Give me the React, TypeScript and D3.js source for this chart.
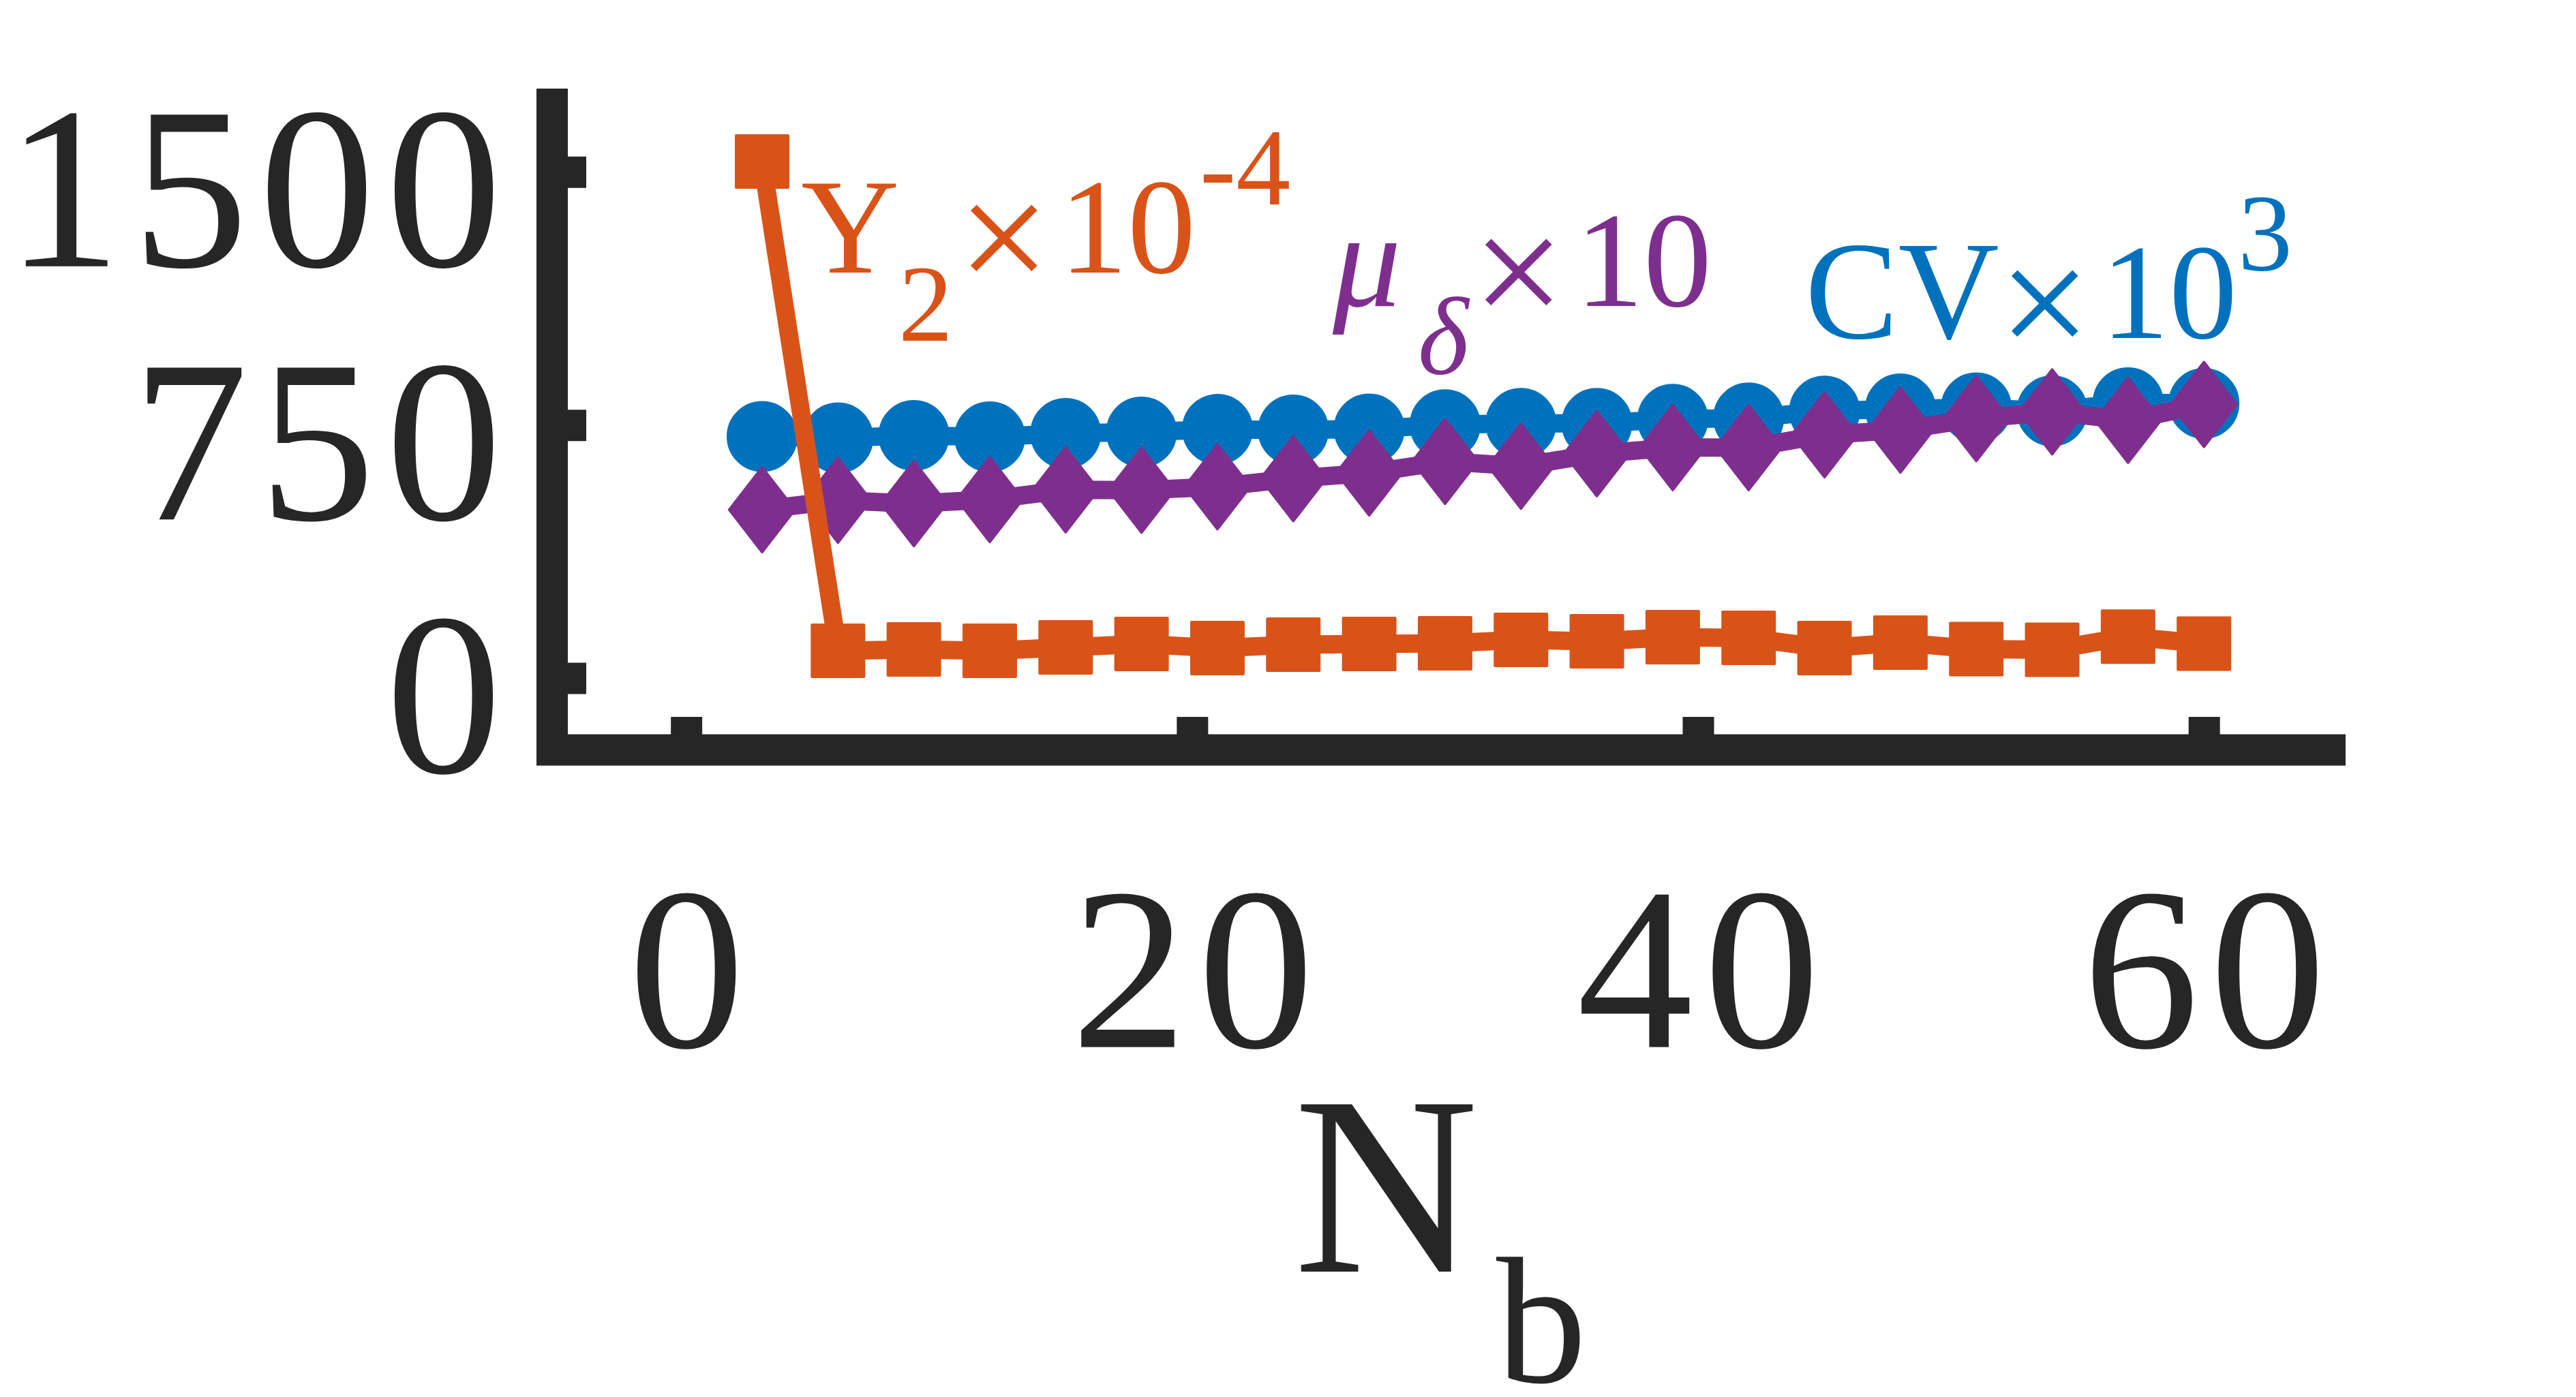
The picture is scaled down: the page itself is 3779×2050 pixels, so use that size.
import { useEffect, useRef } from "react";
import * as d3 from "d3";

// N_b on the x axis, three scaled statistics on the y axis
const NB = [3, 6, 9, 12, 15, 18, 21, 24, 27, 30, 33, 36, 39, 42, 45, 48, 51, 54, 57, 60];
const Y2_E4 = [1531, 81, 85, 81, 91, 101, 89, 99, 101, 103, 113, 109, 121, 119, 89, 105, 86, 84, 123, 102];
const MU_E1 = [499, 527, 517, 529, 558, 557, 567, 591, 608, 642, 628, 665, 683, 683, 721, 735, 769, 789, 764, 811];
const CV_E3 = [716, 712, 719, 715, 725, 729, 737, 735, 738, 751, 755, 755, 767, 771, 791, 798, 801, 792, 816, 814];

const X_TICKS = [0, 20, 40, 60];
const Y_TICKS = [0, 750, 1500];
const X_LIM: [number, number] = [-5.3, 65.6];
const Y_LIM: [number, number] = [-213, 1747];

const W = 3779;
const H = 2050;
const INK = "#262626";
const ORANGE = "#D95319";
const BLUE = "#0072BD";
const PURPLE = "#7E2F8E";
const FONT = "Liberation Serif, Times New Roman, DejaVu Serif, serif";

type Marker = "circle" | "diamond" | "square";

const SERIES: { key: string; values: number[]; color: string; marker: Marker }[] = [
  { key: "cv", values: CV_E3, color: BLUE, marker: "circle" },
  { key: "mu", values: MU_E1, color: PURPLE, marker: "diamond" },
  { key: "y2", values: Y2_E4, color: ORANGE, marker: "square" },
];

function markerPath(marker: Marker) {
  if (marker === "circle") return d3.symbol(d3.symbolCircle, Math.PI * 50 * 50)()!;
  if (marker === "square") return d3.symbol(d3.symbolSquare, 76 * 76)()!;
  return "M0,-62L48,0L0,62L-48,0Z";
}

export default function App() {
  const xAxisRef = useRef<SVGGElement | null>(null);
  const yAxisRef = useRef<SVGGElement | null>(null);

  const x = d3.scaleLinear().domain(X_LIM).range([810, 3441]);
  const y = d3.scaleLinear().domain(Y_LIM).range([1100.5, 130]);
  const line = d3
    .line<number>()
    .x((_, i) => x(NB[i]))
    .y((v) => y(v));

  useEffect(() => {
    const gy = d3.select(yAxisRef.current!);
    gy.call(d3.axisLeft(y).tickValues(Y_TICKS).tickSizeInner(-50).tickSizeOuter(0).tickFormat(d3.format("d")));
    gy.select(".domain").remove();
    gy.attr("font-family", null).attr("font-size", 340).attr("fill", INK);
    gy.selectAll(".tick line").attr("stroke", INK).attr("stroke-width", 46);
    gy.selectAll(".tick text")
      .attr("fill", INK)
      .attr("x", -58)
      .attr("dy", null)
      .attr("y", 138)
      .style("font-family", FONT)
      .style("letter-spacing", "16px");

    const gx = d3.select(xAxisRef.current!);
    gx.call(d3.axisBottom(x).tickValues(X_TICKS).tickSizeInner(-48.5).tickSizeOuter(0).tickFormat(d3.format("d")));
    gx.select(".domain").remove();
    gx.attr("font-family", null).attr("font-size", 340).attr("fill", INK);
    gx.selectAll(".tick line").attr("stroke", INK).attr("stroke-width", 46);
    gx.selectAll(".tick text")
      .attr("fill", INK)
      .attr("dy", null)
      .attr("y", 436)
      .attr("dx", 8)
      .style("font-family", FONT)
      .style("letter-spacing", "16px");
  }, []);

  return (
    <svg
      width={W}
      height={H}
      viewBox={`0 0 ${W} ${H}`}
      style={{ position: "absolute", left: 0, top: 0, background: "#fff", fontFamily: FONT }}
    >
      <rect width={W} height={H} fill="#fff" />

      {SERIES.map((s) => (
        <g key={s.key}>
          <path
            d={line(s.values)!}
            fill="none"
            stroke={s.color}
            strokeWidth={27}
            strokeLinejoin="round"
          />
          {s.values.map((v, i) => (
            <path
              key={i}
              transform={`translate(${x(NB[i])},${y(v)})`}
              d={markerPath(s.marker)}
              fill={s.color}
              stroke={s.color}
              strokeWidth={4}
              strokeLinejoin="round"
            />
          ))}
        </g>
      ))}

      {/* axis lines (box off) */}
      <path
        d={`M${x(X_LIM[0])},${y(Y_LIM[1])}V${y(Y_LIM[0])}H${x(X_LIM[1])}`}
        fill="none"
        stroke={INK}
        strokeWidth={46}
        strokeLinejoin="miter"
      />
      <g ref={yAxisRef} transform={`translate(${x(X_LIM[0])},0)`} />
      <g ref={xAxisRef} transform={`translate(0,${y(Y_LIM[0])})`} />

      {/* x label */}
      <text x={1898} y={1866} fontSize={375} fill={INK}>N</text>
      <text x={2195} y={2028} fontSize={265} fill={INK}>b</text>

      {/* series annotations */}
      <g fill={ORANGE}>
        <text x={1175} y={400} fontSize={200}>Y</text>
        <text x={1318} y={500} fontSize={160}>2</text>
        <text x={1405} y={429} fontSize={240}>×</text>
        <text x={1554} y={400} fontSize={200}>10</text>
        <text x={1760} y={300} fontSize={160}>-4</text>
      </g>
      <g fill={PURPLE}>
        <text x={1955} y={449} fontSize={200} fontStyle="italic">μ</text>
        <text x={2080} y={548} fontSize={160} fontStyle="italic">δ</text>
        <text x={2160} y={479} fontSize={240}>×</text>
        <text x={2311} y={449} fontSize={200}>10</text>
      </g>
      <g fill={BLUE}>
        <text x={2648} y={496} fontSize={205}>CV</text>
        <text x={2932} y={525} fontSize={240}>×</text>
        <text x={3082} y={496} fontSize={200}>10</text>
        <text x={3283} y={396} fontSize={160}>3</text>
      </g>
    </svg>
  );
}
